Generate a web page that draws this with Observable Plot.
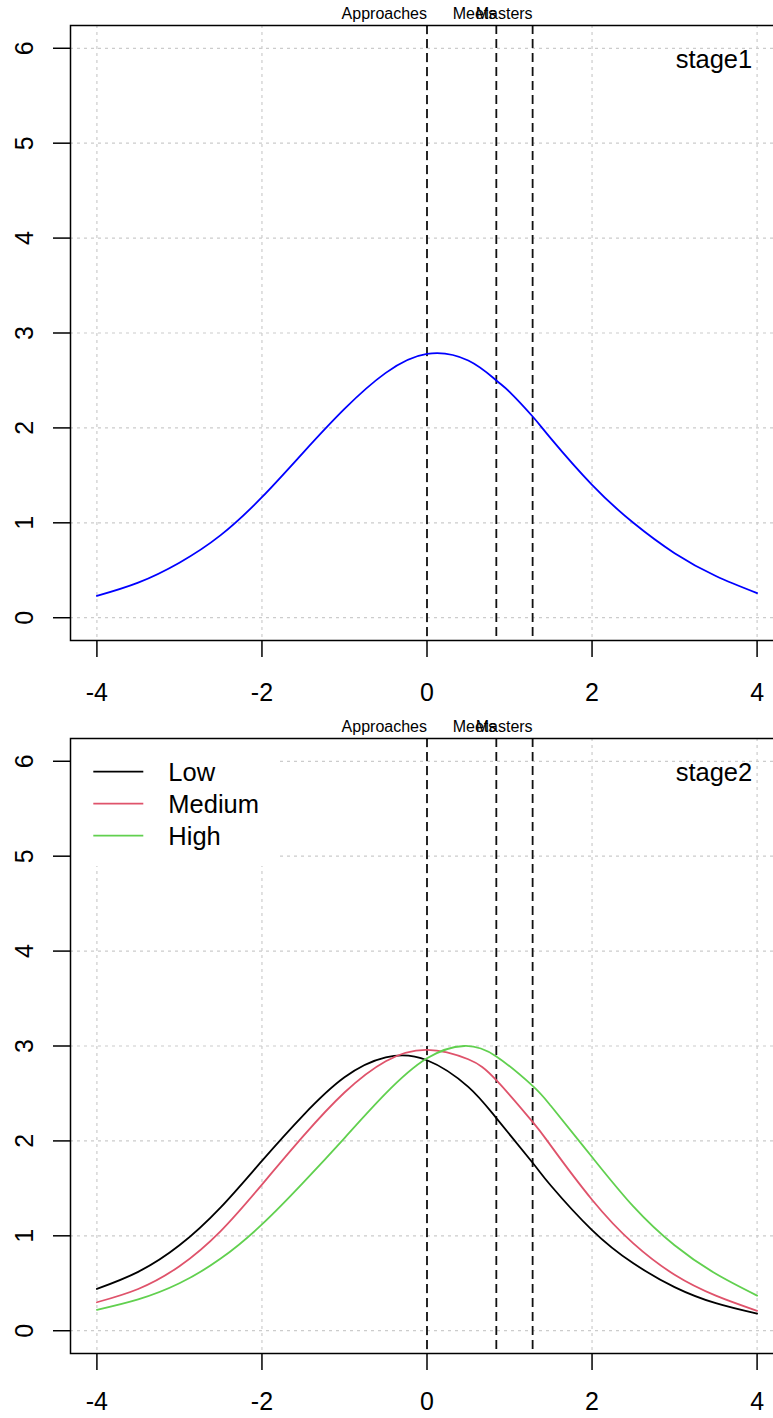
<!DOCTYPE html>
<html><head><meta charset="utf-8">
<script src="https://cdn.jsdelivr.net/npm/d3@7"></script>
<script src="https://cdn.jsdelivr.net/npm/@observablehq/plot@0.6"></script>
<style>
html,body{margin:0;padding:0;background:#fff;}
#chart{width:773px;overflow:hidden;}
#chart svg{display:block;overflow:hidden;}
</style></head><body><div id="chart"></div>
<script>
// ---- data ----
const xTicks = [-4, -2, 0, 2, 4];
const yTicks = [0, 1, 2, 3, 4, 5, 6];
const xlim = [-4.32, 4.32];
const ylim = [-0.24, 6.24];

const cutNames = ["Approaches", "Meets", "Masters"];
const cutValues = [0, 0.84, 1.28];

const stage1X = [-4, -3.5, -3, -2.5, -2, -1.5, -1, -0.5, 0, 0.5, 0.84, 1, 1.28, 1.5, 2, 2.5, 3, 3.5, 4];
const stage1Y = [0.23, 0.37, 0.58, 0.87, 1.27, 1.74, 2.2, 2.58, 2.78, 2.71, 2.5, 2.38, 2.12, 1.89, 1.40, 1.0, 0.68, 0.44, 0.26];

const lowX = [-4, -3.5, -3, -2.5, -2, -1.5, -1, -0.5, 0, 0.5, 0.84, 1.28, 1.5, 2, 2.5, 3, 3.5, 4];
const lowY = [0.44, 0.62, 0.90, 1.30, 1.79, 2.27, 2.67, 2.88, 2.85, 2.57, 2.24, 1.77, 1.53, 1.06, 0.71, 0.46, 0.29, 0.18];

const medX = [-4, -3.5, -3, -2.5, -2, -1.5, -1, -0.5, 0, 0.5, 0.84, 1.28, 1.5, 2, 2.5, 3, 3.5, 4];
const medY = [0.30, 0.44, 0.68, 1.05, 1.54, 2.05, 2.51, 2.84, 2.96, 2.86, 2.64, 2.20, 1.95, 1.38, 0.92, 0.59, 0.37, 0.21];

const highX = [-4, -3.5, -3, -2.5, -2, -1.5, -1, -0.5, 0, 0.45, 0.84, 1.28, 1.5, 2, 2.5, 3, 3.5, 4];
const highY = [0.22, 0.33, 0.50, 0.76, 1.12, 1.56, 2.03, 2.50, 2.87, 3.0, 2.89, 2.58, 2.37, 1.83, 1.31, 0.90, 0.60, 0.37];

const stage2Names = ["Low", "Medium", "High"];
const stage2Colors = ["#000000", "#DF536B", "#61D04F"];

// ---- helpers ----
const rows = (name, xs, ys) => xs.map((x, i) => ({series: name, x, y: ys[i]}));
const cuts = cutNames.map((name, i) => ({name, value: cutValues[i]}));
const gridStyle = {stroke: "#cccccc", strokeOpacity: 1, strokeWidth: 1.2, strokeDasharray: "3,4"};

function makePanel({height, top, bottom, tickPad, data, colorDomain, colorRange, stageLabel, legend}) {
  const marks = [
    Plot.gridX({ticks: xTicks, ...gridStyle}),
    Plot.gridY({ticks: yTicks, ...gridStyle}),
    Plot.ruleX(cuts, {x: "value", stroke: "#111", strokeWidth: 1.8, strokeDasharray: "9,5"}),
    Plot.line(data, {x: "x", y: "y", z: "series", stroke: "series", strokeWidth: 1.8, curve: "natural"})
  ];
  if (legend) {
    marks.push((index, scales, values, dims) => {
      const g = d3.create("svg:g");
      const ml = dims.marginLeft, mt = dims.marginTop;
      g.append("rect").attr("x", ml).attr("y", mt).attr("width", 207).attr("height", 128).attr("fill", "white");
      stage2Names.forEach((n, i) => {
        const y = mt + 33.7 + i * 32;
        g.append("line").attr("x1", ml + 23.3).attr("x2", ml + 73.3).attr("y1", y).attr("y2", y)
          .attr("stroke", scales.color(n)).attr("stroke-width", 1.8);
        g.append("text").attr("x", ml + 98.3).attr("y", y).attr("dy", "0.35em")
          .attr("text-anchor", "start").attr("font-size", 25.5).attr("fill", "black").text(n);
      });
      return g.node();
    });
  }
  marks.push(
    Plot.frame({stroke: "black", strokeWidth: 1.5}),
    Plot.axisX({ticks: xTicks, tickSize: 17, tickPadding: tickPad, fontSize: 25, strokeWidth: 1.5,
      tickFormat: d => String(d), label: null}),
    Plot.axisY({ticks: yTicks, tickSize: 17, strokeWidth: 1.5, tickFormat: () => "", label: null}),
    Plot.text(yTicks, {y: d => d, text: d => String(d), frameAnchor: "left", rotate: -90, dx: -37.7,
      textAnchor: "middle", lineAnchor: "bottom", fontSize: 25, fill: "black"}),
    Plot.text(cuts, {x: "value", text: "name", frameAnchor: "top", textAnchor: "end", lineAnchor: "bottom",
      dy: -6.5, fontSize: 16, fill: "black"}),
    Plot.text([stageLabel], {text: d => d, frameAnchor: "top-right", textAnchor: "end", lineAnchor: "bottom",
      dx: -31.3, dy: 42, fontSize: 25.5, fill: "black"})
  );
  return Plot.plot({
    width: 773, height,
    marginLeft: 70, marginRight: -10, marginTop: top, marginBottom: bottom,
    x: {domain: xlim, range: [70, 783]},
    y: {domain: ylim, range: [height - bottom, top]},
    color: {domain: colorDomain, range: colorRange},
    style: {fontFamily: "'Liberation Sans', Arial, Helvetica, sans-serif", fontSize: "24px", color: "black", background: "white", overflow: "hidden"},
    marks
  });
}

const chart = document.getElementById("chart");
chart.append(makePanel({
  height: 712, top: 25, bottom: 72, tickPad: 26,
  data: rows("stage1", stage1X, stage1Y),
  colorDomain: ["stage1"], colorRange: ["#0000FF"],
  stageLabel: "stage1", legend: false
}));
chart.append(makePanel({
  height: 706, top: 26, bottom: 65, tickPad: 22,
  data: [...rows("Low", lowX, lowY), ...rows("Medium", medX, medY), ...rows("High", highX, highY)],
  colorDomain: stage2Names, colorRange: stage2Colors,
  stageLabel: "stage2", legend: true
}));
</script></body></html>
